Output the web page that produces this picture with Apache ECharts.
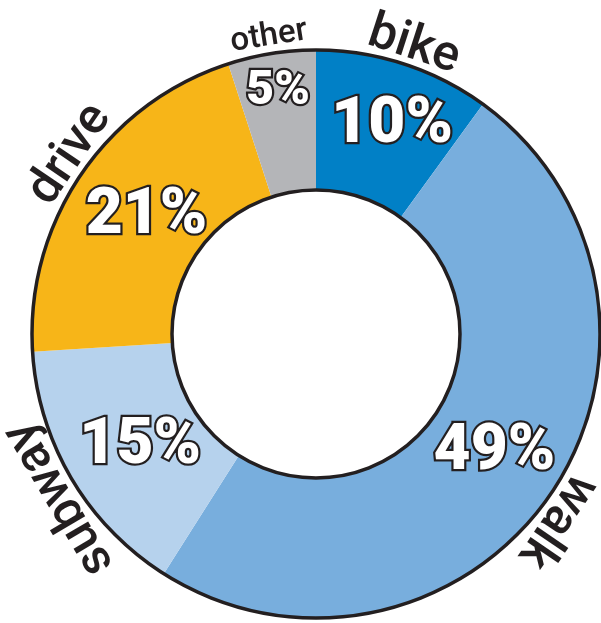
<!DOCTYPE html>
<html>
<head>
<meta charset="utf-8">
<script src="https://cdn.jsdelivr.net/npm/echarts@6/dist/echarts.min.js"></script>
<style>
html,body{margin:0;padding:0;background:#fff;}
#chart{width:601px;height:623px;}
</style>
</head>
<body>
<div id="chart"></div>
<script>
var categories = ['bike', 'walk', 'subway', 'drive', 'other'];
var values = [10, 49, 15, 21, 5];
var colors = ['#0180c6', '#78aedd', '#b6d2ed', '#f7b518', '#b4b5b8'];
var nameSizes = [50, 50, 50, 50, 33];
var pctSizes = [64, 64, 64, 64, 48];
// small label nudges (pixels): percent labels [dx, dy]; name labels [along text, toward centre]
var pctShift = [[9, -2], [-1, -3], [11, 3], [10, 5], [-4, -28]];
var nameShift = [[4, 0], [19, 0], [-11, 0], [10, 0], [0, 3]];

var total = values.reduce(function (a, b) { return a + b; }, 0);
var center = [316, 334];
var ink = '#231f20';

// horizontal nudge through padding (in the label's own frame)
function xPadding(sx) {
  return [0, Math.max(0, -2 * sx), 0, Math.max(0, 2 * sx)];
}
// vertical nudge through an empty extra line of height 2*|dy|
function yShiftLabel(text, dy, fontSize) {
  if (Math.abs(dy) < 1) return { formatter: text, lineHeight: fontSize };
  return {
    formatter: dy < 0 ? text + '\n ' : ' \n' + text,
    lineHeight: 2 * Math.abs(dy)
  };
}

// mid angle (clockwise from top) of each slice -> tangential rotation, tops outward
var acc = 0;
var mids = values.map(function (v) {
  var m = (acc + v / 2) / total * 360;
  acc += v;
  return m;
});

var mainData = categories.map(function (c, i) {
  var y = yShiftLabel(values[i] + '%', pctShift[i][1], pctSizes[i]);
  return {
    name: c, value: values[i],
    itemStyle: { color: colors[i] },
    label: {
      fontSize: pctSizes[i],
      padding: xPadding(pctShift[i][0]),
      formatter: y.formatter,
      lineHeight: y.lineHeight
    }
  };
});

var nameData = categories.map(function (c, i) {
  var y = yShiftLabel(c, nameShift[i][1], nameSizes[i]);
  return {
    name: c, value: values[i],
    label: {
      rotate: -mids[i],
      fontSize: nameSizes[i],
      padding: xPadding(nameShift[i][0]),
      formatter: y.formatter,
      lineHeight: y.lineHeight
    }
  };
});

var chart = echarts.init(document.getElementById('chart'), null, { renderer: 'canvas' });
chart.setOption({
  backgroundColor: '#ffffff',
  animation: false,
  series: [
    {
      type: 'pie',
      center: center,
      radius: [144, 284],
      startAngle: 90,
      clockwise: true,
      avoidLabelOverlap: false,
      labelLayout: { hideOverlap: false },
      silent: true,
      data: mainData,
      itemStyle: { borderWidth: 0 },
      label: {
        show: true,
        position: 'inside',
        color: '#ffffff',
        fontFamily: 'Roboto',
        fontWeight: 900,
        textBorderColor: ink,
        textBorderWidth: 4.5
      },
      labelLine: { show: false }
    },
    {
      type: 'pie',
      center: center,
      radius: [144, 284],
      silent: true,
      data: [{ value: 1, name: 'ring' }],
      itemStyle: { color: 'rgba(0,0,0,0)', borderColor: ink, borderWidth: 3.5 },
      label: { show: false },
      labelLine: { show: false }
    },
    {
      type: 'pie',
      center: center,
      radius: [290, 312],
      startAngle: 90,
      clockwise: true,
      avoidLabelOverlap: false,
      labelLayout: { hideOverlap: false },
      silent: true,
      data: nameData,
      itemStyle: { color: 'rgba(0,0,0,0)' },
      label: {
        show: true,
        position: 'inside',
        color: ink,
        fontFamily: 'Roboto',
        fontWeight: 500
      },
      labelLine: { show: false }
    }
  ]
});
</script>
</body>
</html>
